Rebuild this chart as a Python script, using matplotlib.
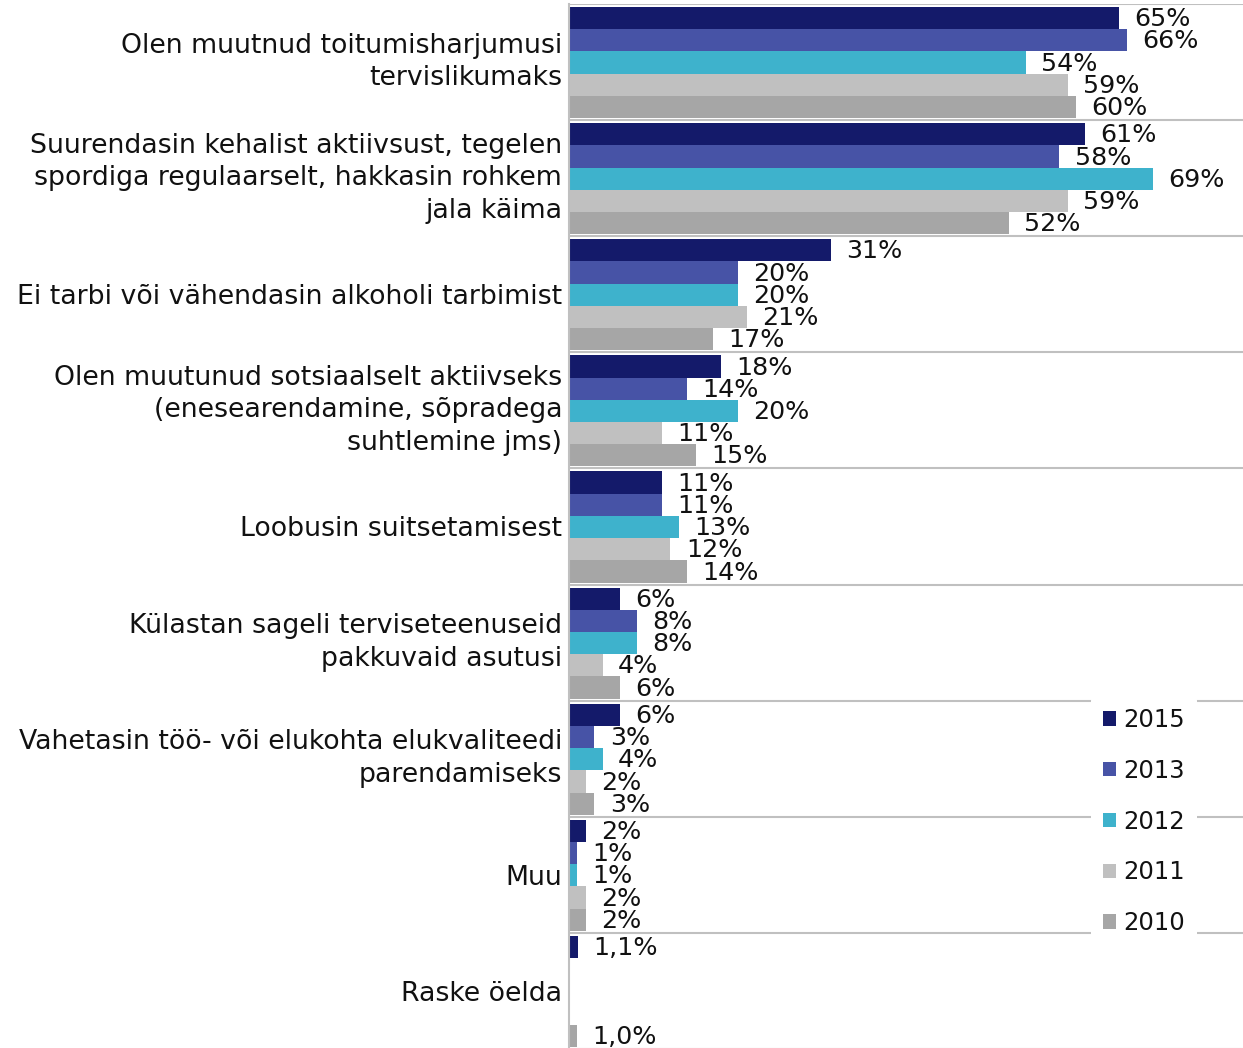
import matplotlib
matplotlib.use("Agg")
import matplotlib.pyplot as plt
from matplotlib.patches import Patch

categories = [
    "Olen muutnud toitumisharjumusi\ntervislikumaks",
    "Suurendasin kehalist aktiivsust, tegelen\nspordiga regulaarselt, hakkasin rohkem\njala käima",
    "Ei tarbi või vähendasin alkoholi tarbimist",
    "Olen muutunud sotsiaalselt aktiivseks\n(enesearendamine, sõpradega\nsuhtlemine jms)",
    "Loobusin suitsetamisest",
    "Külastan sageli terviseteenuseid\npakkuvaid asutusi",
    "Vahetasin töö- või elukohta elukvaliteedi\nparendamiseks",
    "Muu",
    "Raske öelda",
]

series = ["2015", "2013", "2012", "2011", "2010"]
colors = ["#141a6a", "#4753a6", "#3eb2cc", "#c0c0c0", "#a6a6a6"]

v2015 = [65, 61, 31, 18, 11, 6, 6, 2, 1.1]
v2013 = [66, 58, 20, 14, 11, 8, 3, 1, None]
v2012 = [54, 69, 20, 20, 13, 8, 4, 1, None]
v2011 = [59, 59, 21, 11, 12, 4, 2, 2, None]
v2010 = [60, 52, 17, 15, 14, 6, 3, 2, 1.0]
values = [v2015, v2013, v2012, v2011, v2010]
decimals = [0, 0, 0, 0, 0, 0, 0, 0, 1]

W, H = 1243, 1048
dpi = 100
fig = plt.figure(figsize=(W / dpi, H / dpi), dpi=dpi)
ax = fig.add_axes([569 / W, -1 / H, (W - 569) / W, 1045 / H])

fs = 18.3
n = len(categories)
bar_h = 0.1914
top_off = 0.026

for j, (vals, col) in enumerate(zip(values, colors)):
    for i, v in enumerate(vals):
        if v is None:
            continue
        y = i + top_off + j * bar_h + bar_h / 2
        ax.barh(y, v, height=bar_h, color=col, edgecolor="none", zorder=2)
        if decimals[i] == 0:
            lab = f"{v:.0f}%"
        else:
            lab = f"{v:.1f}%".replace(".", ",")
        ax.annotate(lab, (v, y), xytext=(11, -0.8), textcoords="offset points",
                    ha="left", va="center", fontsize=fs, color="#111111",
                    zorder=3)

for i in range(n + 1):
    ax.axhline(i, color="#c0c0c0", lw=1.5, zorder=1)

ax.set_xlim(0, 79.7)
ax.set_ylim(n, 0)
ax.set_yticks([i + 0.5 for i in range(n)])
ax.set_yticklabels(categories, fontsize=19.3, linespacing=1.33, color="#111111")
for t in ax.get_yticklabels():
    if "\n" in t.get_text():
        t.set_va("center")
ax.tick_params(axis="y", length=0, pad=5)
ax.set_xticks([])
for s in ["top", "right", "bottom"]:
    ax.spines[s].set_visible(False)
ax.spines["left"].set_color("#c0c0c0")
ax.spines["left"].set_linewidth(1.5)

handles = [Patch(facecolor=c, edgecolor="none", label=s) for s, c in zip(series, colors)]
leg = fig.legend(handles=handles, loc="upper left",
                 bbox_to_anchor=(1091 / W, 1 - 696 / H),
                 fontsize=17.5, frameon=True, handlelength=0.52, handleheight=0.52,
                 handletextpad=0.3, labelspacing=1.1, borderpad=0.5,
                 borderaxespad=0)
leg.get_frame().set_facecolor("white")
leg.get_frame().set_edgecolor("none")
leg.get_frame().set_alpha(1)
leg.set_zorder(10)
for t in leg.get_texts():
    t.set_color("#111111")

fig.savefig("out.png", dpi=dpi)
